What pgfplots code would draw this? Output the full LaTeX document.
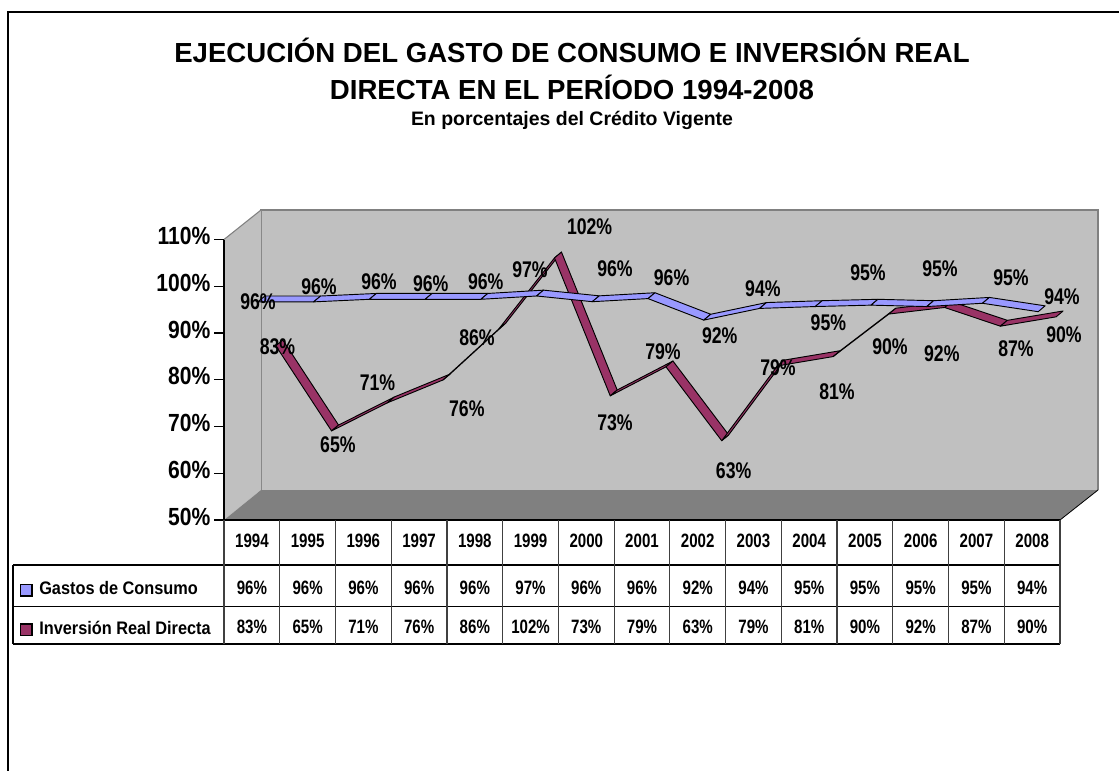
\documentclass[border=0pt]{standalone}
\usepackage{pgfplots}
\pgfplotsset{compat=1.18}
\usepackage{pgfplotstable}
\usepackage{fontspec}
\setmainfont{Liberation Sans}
\newfontfamily\ftick{Liberation Sans}[FakeStretch=0.85]
\newfontfamily\flab{Liberation Sans}[FakeStretch=0.78]
\newfontfamily\ftab{Liberation Sans}[FakeStretch=0.78]
\newfontfamily\fleg{Liberation Sans}[FakeStretch=0.9]
\definecolor{cA}{HTML}{9999FF}
\definecolor{cB}{HTML}{993366}
\definecolor{wall}{HTML}{C0C0C0}
\definecolor{floorc}{HTML}{808080}
\pgfplotstableread{
x g i
0 95.8 83.2
1 95.8 65.0
2 96.35 71.0
3 96.35 75.9
4 96.35 86.8
5 97.06 102.0
6 95.84 72.5
7 96.5 78.7
8 91.9 62.9
9 94.4 78.9
10 94.8 80.9
11 95.1 90.0
12 94.8 91.4
13 95.5 87.4
14 93.7 89.4
}\tbl
% one ribbon segment: colour, x1, y1, x2, y2, depth shift in x and y
\newcommand\seg[7]{%
 \pgfmathsetmacro\xa{#2+#6}\pgfmathsetmacro\ya{#3+#7}%
 \pgfmathsetmacro\xb{#4+#6}\pgfmathsetmacro\yb{#5+#7}%
 \pgfmathsetmacro\xc{#4+#6+0.125}\pgfmathsetmacro\yc{#5+#7+1.25}%
 \pgfmathsetmacro\xd{#2+#6+0.125}\pgfmathsetmacro\yd{#3+#7+1.25}%
 \edef\tmp{\noexpand\addplot[fill=#1,draw=black,line width=.7pt,line join=round,mark=none,forget plot] coordinates {(\xa,\ya)(\xb,\yb)(\xc,\yc)(\xd,\yd)} --cycle;}\tmp
}
\newcommand\ribbon[4]{% column, colour, dx, dy
 \foreach \k in {0,...,13}{%
  \pgfmathtruncatemacro\kn{\k+1}%
  \pgfplotstablegetelem{\k}{#1}\of\tbl\let\ua\pgfplotsretval
  \pgfplotstablegetelem{\kn}{#1}\of\tbl\let\ub\pgfplotsretval
  \seg{#2}{\k}{\ua}{\kn}{\ub}{#3}{#4}%
 }%
}
\begin{document}
\begin{tikzpicture}
\path[use as bounding box] (0,0) rectangle (839.25pt,-577.5pt);
\begin{scope}[x=.75pt,y=-.75pt]
 \draw[line width=1.5pt] (8,775)--(8,12.5)--(1125,12.5);
 \fill[wall] (261,210) rectangle (1098,490);
 \draw[floorc,line width=1.5pt] (261,490)--(261,210)--(1098,210)--(1098,490);
 \fill[wall] (224,239.5)--(261,210)--(261,490)--(224,520)--cycle;
 \fill[floorc] (224,520)--(261,490)--(1098,490)--(1060,520)--cycle;
 \draw[floorc,line width=.8pt] (224,239.5)--(261,210);
 \draw[line width=.6pt] (1060,520)--(1098,490);
 \node[font=\fontsize{20.7}{24}\selectfont\bfseries,anchor=base] at (572,62.5) {EJECUCIÓN DEL GASTO DE CONSUMO E INVERSIÓN REAL};
 \node[font=\fontsize{20.7}{24}\selectfont\bfseries,anchor=base] at (572,99.5) {DIRECTA EN EL PERÍODO 1994-2008};
 \node[font=\fontsize{14.6}{16}\selectfont\bfseries,anchor=base] at (572,126) {En porcentajes del Crédito Vigente};
\end{scope}
\begin{axis}[
 at={(168pt,-390pt)},anchor=south west,
 scale only axis,width=627pt,height=210.375pt,
 xmin=-0.5,xmax=14.5,ymin=50,ymax=110,
 clip=false,
 hide x axis,
 axis y line=left,
 y axis line style={-,black,line width=.8pt},
 ytick={50,60,70,80,90,100,110},
 tick style={black,line width=.8pt},
 tick align=outside,
 major tick length=7.5pt,
 yticklabel={\pgfmathprintnumber{\tick}\%},
 yticklabel style={font=\ftick\fontsize{18.6}{20}\selectfont\bfseries,/pgf/number format/assume math mode=true,inner sep=0pt,xshift=-2.5pt,yshift=2.5pt},
]
\ribbon{i}{cB}{0.43}{4.06}
\ribbon{g}{cA}{0.108}{0.86}
\end{axis}
\begin{scope}[x=.75pt,y=-.75pt]
 % data labels
 \foreach \px/\py/\t in {258/301.7/96,319/286.7/96,379/281.7/96,430.7/284/96,485.7/281.7/96,530/270/97,615/268.7/96,671.6/277.7/96,719.7/336/92,762.9/288.7/94,828.4/322.3/95,868/272.3/95,940/268.3/95,1011/277.3/95,1062/296.7/94,
 277.5/346.7/83,337.9/444.3/65,377.5/382.3/71,466.8/408.7/76,477/338/86,589.6/226.7/102,615/422.3/73,663/351.3/79,733.6/470.3/63,778/367.3/79,837/391.3/81,890/346.7/90,941.8/353.3/92,1016/349/87,1064/334.7/90}
  {\node[font=\flab\fontsize{17}{18}\selectfont\bfseries,inner sep=0pt] at (\px,\py) {\t\%};}
 % table grid
 \draw[black,line width=.8pt] (224,520)--(1060,520);
 \draw[black,line width=.8pt] (13,565)--(1060,565) (13,606.5)--(1060,606.5) (13,644)--(1060,644);
 \draw[black,line width=.8pt] (13,565)--(13,644);
 \foreach \c in {0,...,15}{\draw[black!75,line width=.9pt] ({224+\c*55.73},520)--({224+\c*55.73},644);}
 \foreach \c/\y/\a/\b in {0/1994/96/83,1/1995/96/65,2/1996/96/71,3/1997/96/76,4/1998/96/86,5/1999/97/102,6/2000/96/73,7/2001/96/79,8/2002/92/63,9/2003/94/79,10/2004/95/81,11/2005/95/90,12/2006/95/92,13/2007/95/87,14/2008/94/90}{
  \node[font=\ftab\fontsize{14.5}{15}\selectfont\bfseries,inner sep=0pt] at ({251.9+\c*55.73},541) {\y};
  \node[font=\ftab\fontsize{14.5}{15}\selectfont\bfseries,inner sep=0pt] at ({251.9+\c*55.73},587.5) {\a\%};
  \node[font=\ftab\fontsize{14.5}{15}\selectfont\bfseries,inner sep=0pt] at ({251.9+\c*55.73},627) {\b\%};
 }
 \draw[fill=cA,line width=.8pt] (20.5,584.5) rectangle (32,596);
 \draw[fill=cB,line width=.8pt] (20.5,624) rectangle (32,635.5);
 \node[font=\fleg\fontsize{13.6}{15}\selectfont\bfseries,anchor=west,inner sep=0pt] at (39,588) {Gastos de Consumo};
 \node[font=\fleg\fontsize{13.6}{15}\selectfont\bfseries,anchor=west,inner sep=0pt] at (39,628) {Inversión Real Directa};
\end{scope}
\end{tikzpicture}
\end{document}
